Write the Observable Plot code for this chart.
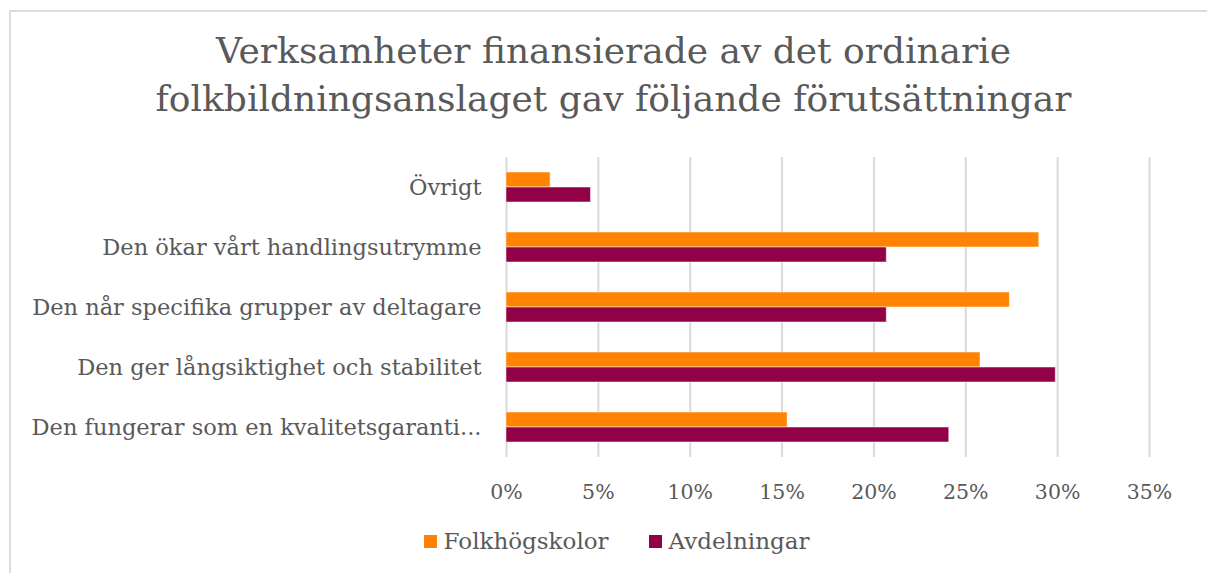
<!DOCTYPE html>
<html>
<head>
<meta charset="utf-8">
<script src="https://cdn.jsdelivr.net/npm/d3@7"></script>
<script src="https://cdn.jsdelivr.net/npm/@observablehq/plot@0.6"></script>
<style>
  html, body { margin: 0; padding: 0; background: #fff; overflow: hidden; }
  #wrap { position: relative; width: 1207px; height: 573px; overflow: hidden; font-family: "DejaVu Serif", serif; color: #595959; }
  #frame { position: absolute; left: 9px; top: 10px; width: 1400px; height: 800px; border-left: 2px solid #dcdcdc; border-top: 2px solid #dcdcdc; }
  #title { position: absolute; left: 0; top: 27px; width: 1227px; text-align: center; font-size: 36px; line-height: 48px; color: #595959; }
  #chart { position: absolute; left: 0; top: 140px; }
  #legend { position: absolute; left: 0; top: 528px; width: 1207px; display: flex; justify-content: center; gap: 40px; font-size: 23px; color: #595959; padding-left: 26px; box-sizing: border-box; }
  .item { display: flex; align-items: center; gap: 7px; }
  .sw { width: 13px; height: 13px; display: inline-block; }
</style>
</head>
<body>
<div id="wrap">
  <div id="frame"></div>
  <div id="title">Verksamheter finansierade av det ordinarie<br>folkbildningsanslaget gav följande förutsättningar</div>
  <div id="chart"></div>
  <div id="legend"></div>
</div>
<script>
const categories = [
  "Övrigt",
  "Den ökar vårt handlingsutrymme",
  "Den når specifika grupper av deltagare",
  "Den ger långsiktighet och stabilitet",
  "Den fungerar som en kvalitetsgaranti..."
];
const series = ["Folkhögskolor", "Avdelningar"];
const folkhogskolor = [0.024, 0.290, 0.274, 0.258, 0.153];
const avdelningar = [0.046, 0.207, 0.207, 0.299, 0.241];
const xTicks = [0, 0.05, 0.10, 0.15, 0.20, 0.25, 0.30, 0.35];
const colors = ["#ff8200", "#920047"];

const data = [];
categories.forEach((c, i) => {
  data.push({category: c, series: series[0], value: folkhogskolor[i]});
  data.push({category: c, series: series[1], value: avdelningar[i]});
});

const chart = Plot.plot({
  width: 1207,
  height: 370,
  marginLeft: 506,
  marginRight: 58,
  marginTop: 17,
  marginBottom: 53,
  style: {fontFamily: "DejaVu Serif, serif", color: "#595959", background: "transparent"},
  x: {domain: [0, 0.35], axis: null},
  y: {domain: series, axis: null, paddingInner: 0, paddingOuter: 1},
  fy: {domain: categories, padding: 0, label: null},
  color: {domain: series, range: colors},
  marks: [
    Plot.ruleX(xTicks, {x: d => d, stroke: "#d9d9d9", strokeWidth: 2}),
    Plot.barX(data, {fy: "category", y: "series", x: "value", fill: "series", stroke: "#fff", strokeOpacity: 0.5, strokeWidth: 1}),
    Plot.axisFy({anchor: "left", tickSize: 0, tickPadding: 25, fontSize: 22.5, label: null}),
    Plot.axisX(xTicks, {anchor: "bottom", tickSize: 0, tickPadding: 27, fontSize: 20.5, tickFormat: d => Math.round(d * 100) + "%", label: null, facetAnchor: "bottom"})
  ]
});
document.getElementById("chart").appendChild(chart);

const legend = document.getElementById("legend");
series.forEach((s, i) => {
  const it = document.createElement("div");
  it.className = "item";
  const sw = document.createElement("span");
  sw.className = "sw";
  sw.style.background = colors[i];
  const t = document.createElement("span");
  t.textContent = s;
  it.appendChild(sw);
  it.appendChild(t);
  legend.appendChild(it);
});
</script>
</body>
</html>
